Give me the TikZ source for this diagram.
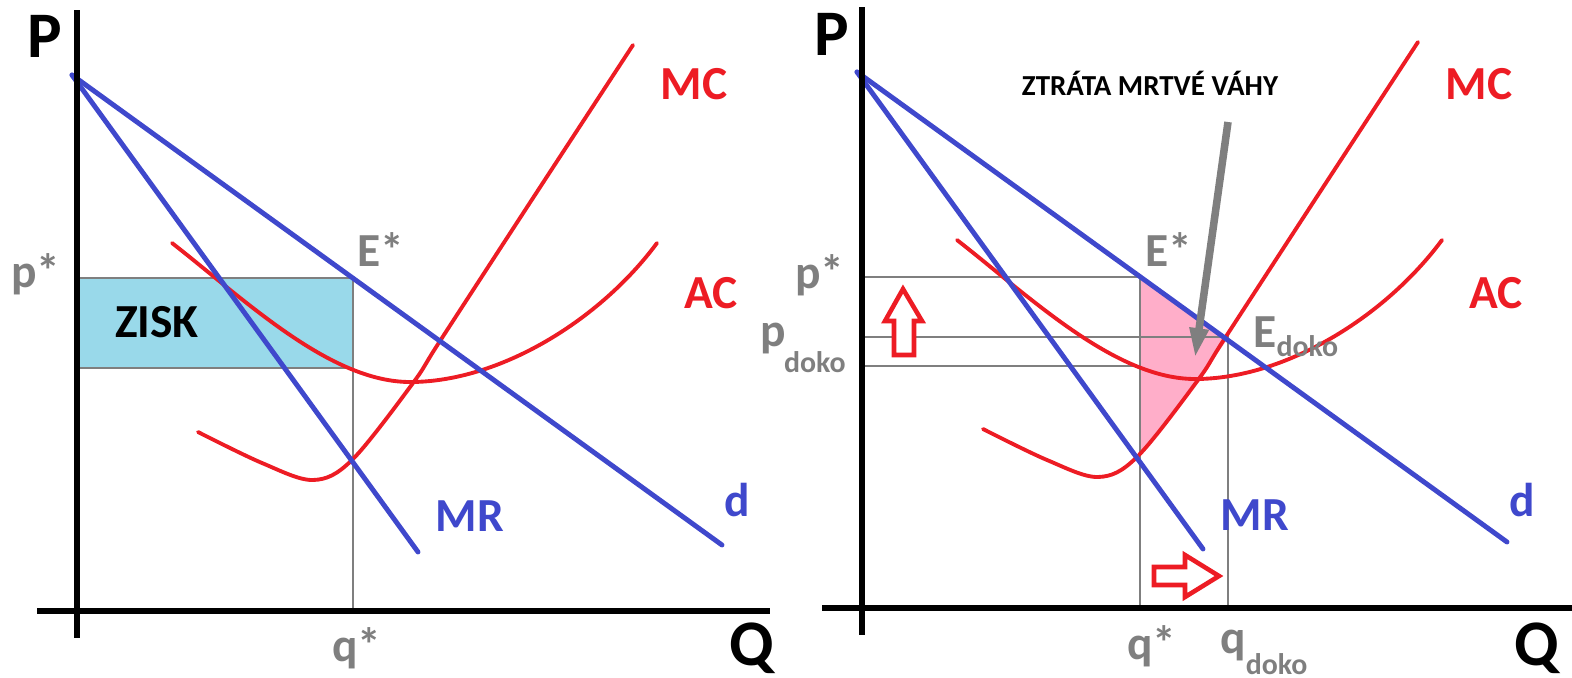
\documentclass[tikz,border=0pt]{standalone}
\usepackage{fontspec}
\setmainfont{Carlito}
\usetikzlibrary{arrows.meta}
\definecolor{pblue}{RGB}{63,72,204}
\definecolor{pred}{RGB}{237,28,36}
\definecolor{pgray}{RGB}{127,127,127}
\definecolor{pturq}{RGB}{153,217,234}
\definecolor{prose}{RGB}{255,174,201}
\tikzset{
  blueline/.style={pblue, line width=2.8pt, line cap=round},
  redline/.style={pred, line width=2.2pt, line cap=round},
  axisline/.style={black, line width=3.8pt},
  guide/.style={pgray, line width=0.9pt},
  lab/.style={inner sep=0pt, font=\fontsize{27}{30}\selectfont\bfseries},
  graylab/.style={lab, text=pgray},
  bluelab/.style={lab, text=pblue},
  redlab/.style={lab, text=pred},
  blacklab/.style={lab, text=black},
  axlab/.style={inner sep=0pt, font=\fontsize{37}{40}\selectfont\bfseries},
  hollowarrow/.style={draw=pred, line width=2.6pt, fill=white, line join=miter},
  grayarrow/.style={pgray, line width=4.3pt, -{Triangle[length=17pt,width=10pt]}},
}
\newcommand\subsc[2]{\raisebox{-#1}{\fontsize{17}{18}\selectfont #2}}
\newcommand\econpanel[2]{%
  \coordinate (#1d0) at (72,75);
  \coordinate (#1d1) at (722,545);
  \coordinate (#1m1) at (418,552);
  \coordinate (#1ya) at (77,10);
  \coordinate (#1yb) at (77,638);
  \coordinate (#1xa) at (37,611);
  \coordinate (#1xb) at (#2,611);
  \draw[redline] (172,243) .. controls (245,300) and (330,382) .. (410,382)
                 .. controls (500,382) and (600,320) .. (657,243);
  \draw[redline] plot[smooth,tension=0.55] coordinates {(198,432) (262,463) (313,480) (352,460) (413,383) (440,341) (533,198) (633,45)};
  \draw[blueline] (#1d0) -- (#1d1);
  \draw[blueline] (#1d0) -- (#1m1);
  \draw[axisline] (#1ya) -- (#1yb);
  \draw[axisline] (#1xa) -- (#1xb);
}
\begin{document}
\begin{tikzpicture}[x=0.02cm, y=-0.02cm]
  \useasboundingbox (0,0) rectangle (1572,677);
  % ---------- left panel ----------
  \fill[pturq] (77,278) rectangle (353,368);
  \coordinate (Lpa) at (77,278);
  \coordinate (Lpb) at (353,278);
  \coordinate (Lqb) at (353,610);
  \coordinate (Lla) at (77,368);
  \coordinate (Llb) at (353,368);
  \draw[guide] (Lpa) -- (Lpb) -- (Lqb);
  \draw[guide] (Lla) -- (Llb);
  \econpanel{L}{770}
  \node[axlab] (LP) at (45,36) {P};
  \node[axlab] (LQ) at (752,648) {Q};
  \node[graylab] (Lpstar) at (36,274) {p*};
  \node[graylab] (LEstar) at (381,250) {E*};
  \node[blacklab] (zisk) at (157,322) {ZISK};
  \node[graylab] (Lqstar) at (357,648) {q*};
  \node[bluelab] (LMR) at (470,516) {MR};
  \node[bluelab] (Ld) at (737,500) {d};
  \node[redlab] (LMC) at (694,84) {MC};
  \node[redlab] (LAC) at (711,293) {AC};
  % ---------- right panel ----------
  \begin{scope}[shift={(785,-3)}]
    \fill[prose] (355,280) -- (443,341) .. controls (425,368) and (385,420) .. (355,458) -- cycle;
    \coordinate (Rpa) at (78,280);
    \coordinate (Rpb) at (355,280);
    \coordinate (Rqb) at (355,611);
    \coordinate (Rda) at (78,340);
    \coordinate (Rdb) at (443,340);
    \coordinate (Rdq) at (443,611);
    \coordinate (Rla) at (78,369);
    \coordinate (Rlb) at (355,369);
    \draw[guide] (Rpa) -- (Rpb) -- (Rqb);
    \draw[guide] (Rda) -- (Rdb) -- (Rdq);
    \draw[guide] (Rla) -- (Rlb);
    \econpanel{R}{787}
  \end{scope}
  \draw[hollowarrow] (903,289) -- (922,321) -- (914,321) -- (914,355) -- (894,355) -- (894,321) -- (885,321) -- cycle;
  \draw[hollowarrow] (1154,567) -- (1185,567) -- (1185,555) -- (1219,576) -- (1185,597) -- (1185,585) -- (1154,585) -- cycle;
  \node[blacklab, font=\fontsize{16.5}{18}\selectfont\bfseries] (dwl) at (1150,83) {ZTRÁTA MRTVÉ VÁHY};
  \coordinate (dwlstart) at (1228,122);
  \coordinate (dwltip) at (1195,358);
  \draw[grayarrow] (dwlstart) -- (dwltip);
  \node[axlab] (RP) at (832,34) {P};
  \node[axlab] (RQ) at (1537,648) {Q};
  \node[graylab] (Rpstar) at (820,275) {p*};
  \node[graylab, anchor=base west] (Rpdoko) at (760,346) {p\kern-1pt\subsc{15pt}{doko}};
  \node[graylab] (REstar) at (1169,250) {E*};
  \node[graylab, anchor=base west] (REdoko) at (1253,347) {E\subsc{5.5pt}{doko}};
  \node[graylab] (Rqstar) at (1152,646) {q*};
  \node[graylab, anchor=base west] (Rqdoko) at (1220,653) {q\subsc{12pt}{doko}};
  \node[bluelab] (RMR) at (1255,515) {MR};
  \node[bluelab] (Rd) at (1522,500) {d};
  \node[redlab] (RMC) at (1479,84) {MC};
  \node[redlab] (RAC) at (1496,293) {AC};
\end{tikzpicture}
\end{document}
